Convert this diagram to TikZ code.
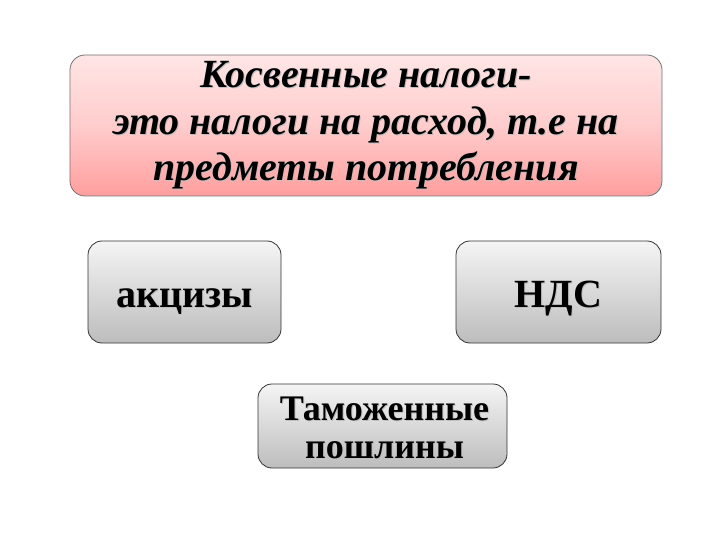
\documentclass[tikz,border=0pt]{standalone}
\usepackage{fontspec}
\setmainfont{Liberation Serif}
\begin{document}
\begin{tikzpicture}[x=1pt,y=-1pt,
  topbox/.style={draw=black!55, line width=0.8pt, rounded corners=15pt, top color=red!10!white, bottom color=red!38!white, middle color=red!20!white},
  graybox/.style={draw=black!80, line width=0.8pt, rounded corners=14pt, top color=black!4, bottom color=black!26},
  toptxt/.style={anchor=base, inner sep=0pt, font=\bfseries\itshape\fontsize{40}{46}\selectfont},
  lbl/.style={anchor=base, inner sep=0pt, font=\bfseries\fontsize{40}{44}\selectfont},
  lblc/.style={anchor=base, inner sep=0pt, font=\bfseries\fontsize{36}{38}\selectfont},
  shd/.style={text=black!25}
]
\useasboundingbox (0,0) rectangle (720,540);
\fill[white] (0,0) rectangle (720,540);
\draw[topbox] (70,55) rectangle (662,196);
% shadows
\node[toptxt,shd] at (367,89) {Косвенные налоги-};
\node[toptxt,shd] at (367,136) {это налоги на расход, т.е на};
\node[toptxt,shd] at (367,182) {предметы потребления};
\node[toptxt] (t1) at (366,88) {Косвенные налоги-};
\node[toptxt] (t2) at (366,135) {это налоги на расход, т.е на};
\node[toptxt] (t3) at (366,181) {предметы потребления};
\draw[graybox] (88,241) rectangle (281,343);
\node[lbl,shd] at (185.5,308) {акцизы};
\node[lbl] (a) at (184.5,307) {акцизы};
\draw[graybox] (456,241) rectangle (661,343);
\node[lbl,shd] at (559.5,308) {НДС};
\node[lbl] (n) at (558.5,307) {НДС};
\draw[graybox] (258,384) rectangle (507,468);
\node[lblc,shd] at (385.5,421) {Таможенные};
\node[lblc,shd] at (385.5,459) {пошлины};
\node[lblc] (c1) at (384.5,420) {Таможенные};
\node[lblc] (c2) at (384.5,458) {пошлины};
\end{tikzpicture}
\end{document}
